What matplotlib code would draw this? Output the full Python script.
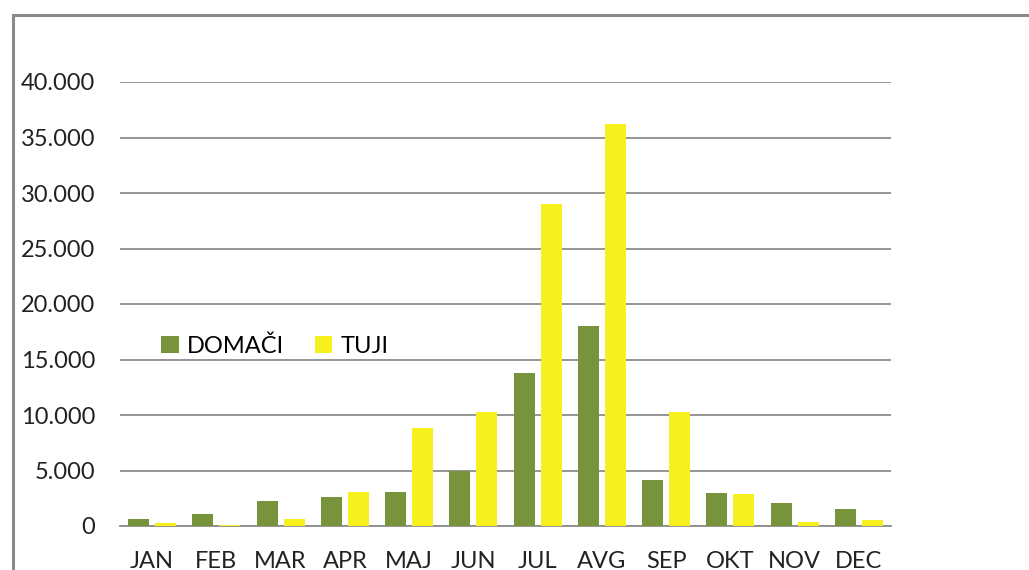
import numpy as np
import matplotlib.pyplot as plt
from matplotlib.patches import Rectangle
from matplotlib.ticker import FuncFormatter

months = ["JAN", "FEB", "MAR", "APR", "MAJ", "JUN", "JUL", "AVG", "SEP", "OKT", "NOV", "DEC"]
domaci = [600, 1050, 2230, 2590, 3030, 4930, 13750, 18040, 4140, 3000, 2100, 1500]
tuji = [270, 120, 600, 3030, 8830, 10270, 29000, 36200, 10270, 2880, 360, 570]

green = "#77933C"
yellow = "#F5F01E"

plt.rcParams['font.family'] = ['Lato', 'DejaVu Sans']

fig = plt.figure(figsize=(10.29, 5.70), dpi=100)
ax = fig.add_axes([120/1029, 1 - 526/570, 771/1029, 444/570])

x = np.arange(len(months))
w = 0.33
ax.bar(x - 0.045 - w/2, domaci, w, color=green, label="DOMAČI", zorder=3)
ax.bar(x + 0.045 + w/2, tuji, w, color=yellow, label="TUJI", zorder=3)

ax.set_xlim(-0.5, 11.5)
ax.set_ylim(0, 40000)
ax.set_yticks(range(0, 40001, 5000))
ax.yaxis.set_major_formatter(FuncFormatter(lambda v, p: f"{int(v):,}".replace(",", ".")))
ax.set_xticks(x)
ax.set_xticklabels(months)
ax.grid(axis="y", color="#8c8c8c", linewidth=1.3, zorder=0)
for s in ["top", "right", "left"]:
    ax.spines[s].set_visible(False)
ax.spines["bottom"].set_color("#8c8c8c")
ax.spines["bottom"].set_linewidth(1.3)
ax.tick_params(axis="both", length=0, labelsize=17, colors="#222222")
ax.tick_params(axis="y", pad=18)
ax.tick_params(axis="x", pad=18)

ax.legend(loc="center left", bbox_to_anchor=(0.053, 0.405), ncol=2, frameon=False,
          fontsize=17, handlelength=0.75, handleheight=0.75, handletextpad=0.35,
          columnspacing=1.3, borderaxespad=0, borderpad=0)

# chart border (extends past the cropped image)
fig.patches.append(Rectangle((13/1029, -0.2), 1.2, 1.2 - 15/570,
                             transform=fig.transFigure, fill=False,
                             edgecolor="#8a8a8a", linewidth=2.2))

fig.savefig("out.png", dpi=100)
